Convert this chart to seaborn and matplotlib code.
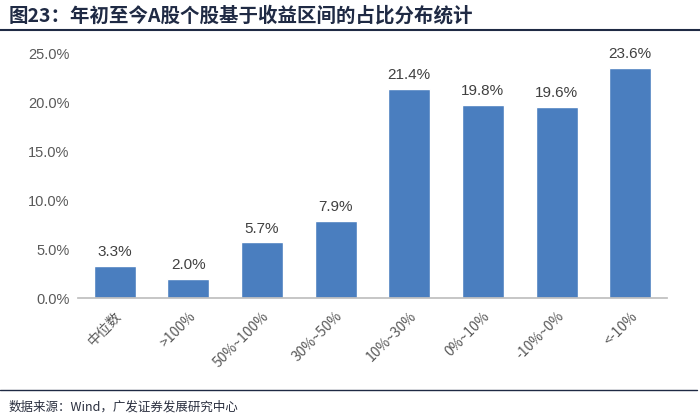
import matplotlib
matplotlib.use("Agg")
import matplotlib.pyplot as plt
import seaborn as sns
import pandas as pd
from matplotlib.lines import Line2D

categories = ["中位数", ">100%", "50%~100%", "30%~50%", "10%~30%", "0%~10%", "-10%~0%", "<-10%"]
values = [3.3, 2.0, 5.7, 7.9, 21.4, 19.8, 19.6, 23.6]
yticks = [0, 5, 10, 15, 20, 25]

sns.set_theme(style="white")
plt.rcParams['font.family'] = ['Noto Sans CJK SC', 'DejaVu Sans']

df = pd.DataFrame({"cat": categories, "val": values})

fig = plt.figure(figsize=(7, 4.18), dpi=100)
ax = fig.add_axes([0.111, 0.287, 0.842, 0.584])
sns.barplot(data=df, x="cat", y="val", color="#4A7EBF", saturation=1, width=0.57, ax=ax)

ax.set_ylim(0, 25)
ax.set_xlim(-0.5, len(categories) - 0.5)
ax.set_yticks(yticks)
ax.set_yticklabels([f"{t:.1f}%" for t in yticks], fontsize=10.5, color="#595959",
                   family=['Liberation Sans', 'DejaVu Sans'])
ax.set_xticks(range(len(categories)))
ax.set_xticklabels(categories, rotation=45, ha="right", rotation_mode="anchor",
                   fontsize=10, color="#595959")
ax.set_xlabel("")
ax.set_ylabel("")
for s in ["top", "right", "left"]:
    ax.spines[s].set_visible(False)
ax.spines["bottom"].set_color("#BFBFBF")
ax.tick_params(axis="both", length=0, pad=6)
ax.tick_params(axis="x", pad=8)

for i, v in enumerate(values):
    ax.text(i, v + 0.7, f"{v:.1f}%", ha="center", va="bottom", fontsize=11,
            color="#404040", family=['Liberation Sans', 'DejaVu Sans'])

fig.text(0.012, 0.962, "图23：年初至今A股个股基于收益区间的占比分布统计", fontsize=14,
         fontweight="bold", color="#1F2A44", va="center", ha="left")
fig.add_artist(Line2D([0.0, 1.0], [0.928, 0.928], color="#1F2A44", lw=1.5, transform=fig.transFigure))
fig.add_artist(Line2D([0.0, 0.996], [0.066, 0.066], color="#1F2A44", lw=1.0, transform=fig.transFigure))
fig.text(0.012, 0.026, "数据来源：Wind，广发证券发展研究中心", fontsize=9, color="#2A2F3F",
         va="center", ha="left")

fig.savefig("out.png", dpi=100)
